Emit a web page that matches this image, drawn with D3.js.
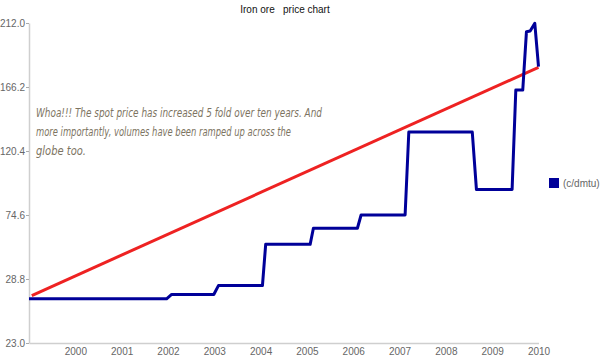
<!DOCTYPE html>
<html>
<head>
<meta charset="utf-8">
<script src="https://cdn.jsdelivr.net/npm/d3@7"></script>
<style>
  html, body { margin: 0; padding: 0; background: #fff; }
  svg { display: block; font-family: "Liberation Sans", Arial, sans-serif; }
</style>
</head>
<body>
<svg id="chart" width="600" height="360"></svg>
<script>
// ---- data ----
const title = "Iron ore   price chart";
const seriesName = "(c/dmtu)";
const years = [1999.0, 2001.97, 2002.08, 2002.99, 2003.09, 2004.04, 2004.11, 2005.07, 2005.14,
               2006.09, 2006.17, 2007.12, 2007.20, 2008.57, 2008.66, 2009.43, 2009.51, 2009.66,
               2009.74, 2009.82, 2009.92, 2010.0];
const prices = [27.0, 27.0, 27.4, 27.4, 28.2, 28.2, 53.6, 53.6, 65.1,
                65.1, 74.6, 74.6, 134.0, 134.0, 92.8, 92.8, 164.0, 164.0,
                205.8, 206.3, 211.8, 180.7];
const trendYears = [1999.06, 2010.0];
const trendValues = [27.3, 180.3];
const xTickValues = [2000, 2001, 2002, 2003, 2004, 2005, 2006, 2007, 2008, 2009, 2010];
const yTickValues = [23.0, 28.8, 74.6, 120.4, 166.2, 212.0];
const annotationLines = [
  "Whoa!!! The spot price has increased 5 fold over ten years. And",
  "more importantly, volumes have been ramped up across the",
  "globe too."
];

(function () {
// ---- layout ----
const mLeft = 29, mRight = 538.5, mTop = 23, mBottom = 343;
const svg = d3.select("#chart");

const x = d3.scaleLinear().domain([1999, 2010]).range([mLeft, mRight]);
// axis labels are evenly spaced although the first gap is 5.8 and others 45.8
const y = d3.scaleLinear()
  .domain([yTickValues[0], yTickValues[1], yTickValues[yTickValues.length - 1]])
  .range([mBottom, mBottom - (mBottom - mTop) / 5, mTop]);

// title
svg.append("text")
  .attr("x", 285).attr("y", 13)
  .attr("text-anchor", "middle")
  .style("white-space", "pre")
  .attr("font-size", 10)
  .attr("fill", "#111")
  .text(title);

// x axis
const xAxis = svg.append("g")
  .attr("transform", `translate(0,${mBottom})`)
  .call(d3.axisBottom(x).tickValues(xTickValues).tickFormat(d3.format("d"))
        .tickSize(0).tickSizeOuter(0).tickPadding(5));
xAxis.select(".domain").attr("stroke", "#cfcfcf").attr("stroke-width", 1.5);
xAxis.selectAll("text").attr("font-size", 10).attr("fill", "#666").attr("font-family", "Liberation Sans, Arial, sans-serif");

// y axis
const yAxis = svg.append("g")
  .attr("transform", `translate(${mLeft},0)`)
  .call(d3.axisLeft(y).tickValues(yTickValues).tickFormat(d3.format(".1f"))
        .tickSize(3).tickSizeOuter(0).tickPadding(1));
yAxis.select(".domain").attr("stroke", "#cfcfcf").attr("stroke-width", 1.5);
yAxis.selectAll(".tick line").attr("stroke", "#aaa");
yAxis.selectAll("text").attr("font-size", 10).attr("fill", "#666").attr("font-family", "Liberation Sans, Arial, sans-serif");

// trend line (red)
const trend = trendYears.map((d, i) => [d, trendValues[i]]);
svg.append("path")
  .datum(trend)
  .attr("fill", "none")
  .attr("stroke", "#ee2222")
  .attr("stroke-width", 3)
  .attr("d", d3.line().x(d => x(d[0])).y(d => y(d[1])));

// price series (blue)
const series = years.map((d, i) => [d, prices[i]]);
svg.append("path")
  .datum(series)
  .attr("fill", "none")
  .attr("stroke", "#000099")
  .attr("stroke-width", 3)
  .attr("stroke-linejoin", "round")
  .attr("d", d3.line().x(d => x(d[0])).y(d => y(d[1])));

// annotation
const annWidths = [286, 255, 50];
svg.append("g").selectAll("text")
  .data(annotationLines)
  .join("text")
  .attr("x", 36)
  .attr("y", (d, i) => 117 + i * 19)
  .attr("font-size", 12.5)
  .attr("font-style", "italic")
  .attr("font-family", "DejaVu Sans, sans-serif")
  .attr("fill", "#7d7462")
  .attr("textLength", (d, i) => annWidths[i])
  .attr("lengthAdjust", "spacingAndGlyphs")
  .text(d => d);

// legend
const legend = svg.append("g").attr("transform", "translate(549,178)");
legend.append("rect").attr("width", 10).attr("height", 10).attr("fill", "#000099");
legend.append("text")
  .attr("x", 14).attr("y", 9)
  .attr("font-size", 10).attr("fill", "#666")
  .text(seriesName);
})();
</script>
</body>
</html>
